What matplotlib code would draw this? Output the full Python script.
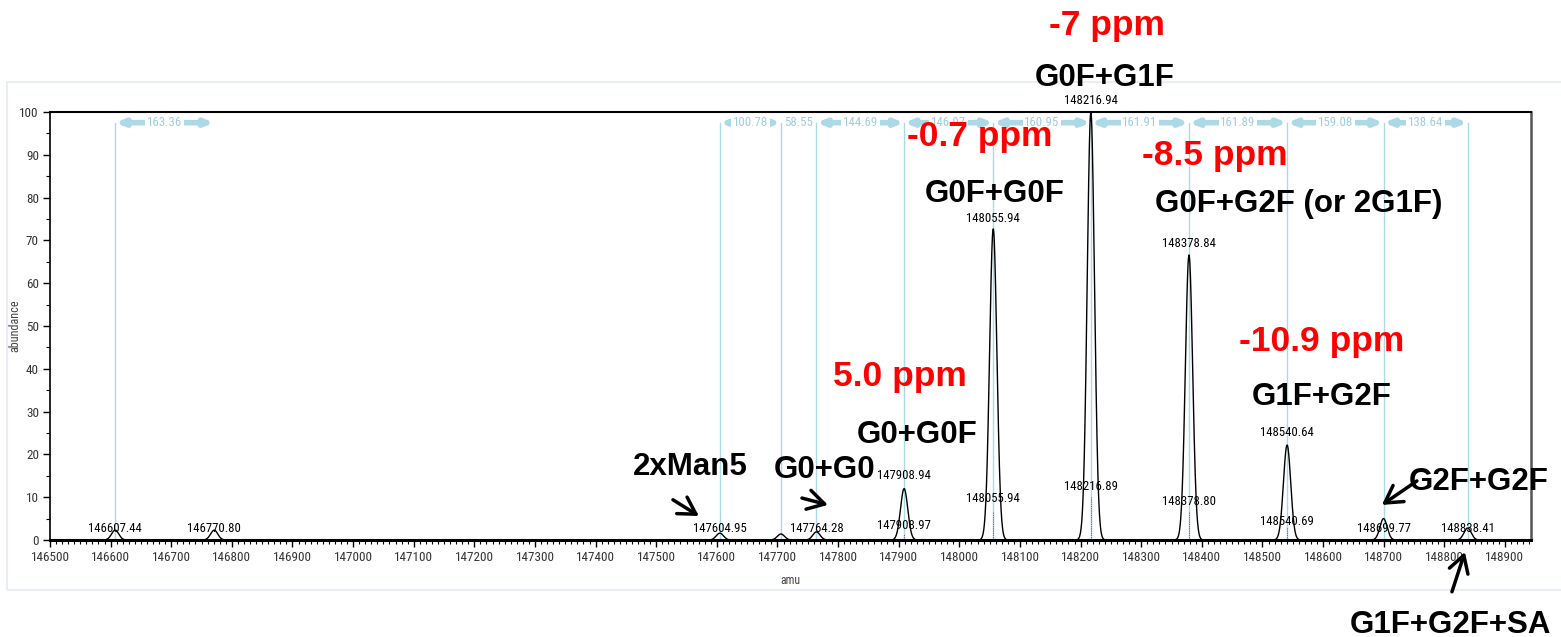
import os
import numpy as np
import matplotlib
matplotlib.use("Agg")
import matplotlib.pyplot as plt
import matplotlib.font_manager as fm
from matplotlib.ft2font import FT2Font
from matplotlib.patches import Rectangle

# --- данные спектра (деконволюция) ---
peak_mass = [146607.44, 146770.80, 147604.95, 147705.73, 147764.28, 147908.94,
             148055.94, 148216.94, 148378.84, 148540.64, 148699.77, 148838.41]
peak_abund = [2.3, 2.3, 1.6, 1.4, 1.9, 12.0, 72.7, 100.0, 66.6, 22.2, 5.0, 2.8]
peak_sigma = 6.0

# подписи вершин пиков
top_label_mass = [146607.44, 146770.80, 147604.95, 147764.28, 147908.94,
                  148055.94, 148216.94, 148378.84, 148540.64, 148699.77, 148838.41]
top_label_y = [2.6, 2.6, 2.8, 2.8, 15.0, 75.2, 102.8, 69.2, 25.0, 2.8, 2.8]

# центроиды (нижние подписи и красные пунктиры)
centroid_mass = [147908.97, 148055.94, 148216.89, 148378.80, 148540.69]
centroid_label_y = [3.5, 9.6, 12.4, 9.1, 4.4]
centroid_mark_h = [1.5, 6.5, 10.0, 6.5, 3.0]

# разности масс между соседними пиками
diff_start = [146607.44, 147604.95, 147705.73, 147764.28, 147908.97,
              148055.94, 148216.89, 148378.80, 148540.69, 148699.77]
diff_end = [146770.80, 147705.73, 147764.28, 147908.97, 148055.94,
            148216.89, 148378.80, 148540.69, 148699.77, 148838.41]
diff_text = ['163.36', '100.78', '58.55', '144.69', '146.97',
             '160.95', '161.91', '161.89', '159.08', '138.64']
marker_mass = [146607.44, 147604.95, 147705.73, 147764.28, 147908.97, 148055.94,
               148216.89, 148378.80, 148540.69, 148699.77, 148838.41]
DIFF_Y = 97.5

# гликоформы с ошибкой массы
glyco_names = ['G0F+G1F', 'G0F+G0F', 'G0F+G2F (or 2G1F)', 'G1F+G2F', 'G0+G0F']
glyco_ppm = ['-7 ppm', '-0.7 ppm', '-8.5 ppm', '-10.9 ppm', '5.0 ppm']
glyco_x = [148240, 148059, 148560, 148598, 147930]
glyco_ppm_x = [148243, 148034, 148422, 148598, 147902]
glyco_name_y = [106.1, 79.0, 76.6, 31.5, 22.7]
glyco_ppm_y = [118.0, 92.1, 87.6, 44.2, 36.0]

# минорные формы со стрелками
minor_names = ['2xMan5', 'G0+G0', 'G2F+G2F', 'G1F+G2F+SA']
minor_x = [147557, 147777, 148856, 148811]
minor_y = [15.2, 14.5, 11.7, -21.7]
arrow_tail = [(147527.6, 9.4), (147740.4, 9.8), (148754.8, 13.8), (148812.6, -12.1)]
arrow_head = [(147570.5, 5.6), (147783.3, 8.2), (148697.1, 8.2), (148834.0, -2.8)]

LIGHTBLUE = '#add8e6'
BOLD = ['Liberation Sans', 'DejaVu Sans']


def find_narrow_font():
    """Ищем установленный узкий шрифт (аналог Arial Narrow)"""
    prefs = ['liberationsansnarrow-regular', 'arialn', 'notosans-extracondensed.',
             'notosans-condensed.', 'robotocondensed-regular', 'dejavusanscondensed.']
    files = [f.fname for f in fm.fontManager.ttflist]
    for root in ['/usr/share/fonts', '/usr/local/share/fonts']:
        for dirpath, _, names in os.walk(root):
            files += [os.path.join(dirpath, n) for n in names]
    for p in prefs:
        for f in files:
            if os.path.basename(f).lower().startswith(p):
                return f
    return fm.findfont('Liberation Sans')


narrow_path = find_narrow_font()


def fitted_font(sample, target_px):
    """Размер шрифта, при котором строка sample занимает target_px пикселей"""
    ft = FT2Font(narrow_path)
    ft.set_size(10, 72)
    ft.set_text(sample)
    width_pt = ft.get_width_height()[0] / 64.0
    size = 10 * (target_px * 72 / 100) / width_pt
    return fm.FontProperties(fname=narrow_path, size=size)


peak_font = fitted_font('148055.94', 54)
tick_font = fitted_font('146500', 39)
diff_font = fitted_font('163.36', 35)
ylabel_font = fitted_font('abundance', 52)
xlabel_font = fitted_font('amu', 20)

fig = plt.figure(figsize=(15.61, 6.37), dpi=100)
# светлая рамка скриншота
fig.patches.append(Rectangle((7 / 1561, 47 / 637), 1.0, 508 / 637, transform=fig.transFigure,
                             fill=False, edgecolor='#e9eef5', linewidth=1.5, zorder=-5))
ax = fig.add_axes([50 / 1561, 97 / 637, 1481 / 1561, 428 / 637])

# профиль спектра как сумма гауссиан
mass = np.linspace(146500, 148943, 8000)
profile = np.zeros_like(mass)
for m, a in zip(peak_mass, peak_abund):
    profile += a * np.exp(-0.5 * ((mass - m) / peak_sigma) ** 2)

# вертикальные маркеры
for m in marker_mass:
    ax.plot([m, m], [0, DIFF_Y], color=LIGHTBLUE, lw=1, zorder=1)

ax.plot(mass, profile, color='black', lw=1.0, zorder=3)

for m, h in zip(centroid_mass, centroid_mark_h):
    ax.plot([m, m], [0, h], color='#e0304a', lw=0.8, ls=(0, (1, 1)), zorder=2)

# стрелки разностей масс
for x0, x1, t in zip(diff_start, diff_end, diff_text):
    ax.annotate('', xy=(x1, DIFF_Y), xytext=(x0, DIFF_Y),
                arrowprops=dict(arrowstyle='<|-|>,head_length=0.45,head_width=0.18',
                                lw=4, color=LIGHTBLUE, shrinkA=0, shrinkB=0,
                                mutation_scale=10),
                zorder=2)
    ax.text((x0 + x1) / 2, DIFF_Y, t, ha='center', va='center', fontproperties=diff_font,
            color='#9fcde0', zorder=4,
            bbox=dict(facecolor='white', edgecolor='none', pad=1.2))

# подписи пиков
for m, y in zip(top_label_mass, top_label_y):
    ax.text(m, y, f'{m:.2f}', ha='center', va='center', fontproperties=peak_font,
            color='black', zorder=5, clip_on=False)
for m, y in zip(centroid_mass, centroid_label_y):
    ax.text(m, y, f'{m:.2f}', ha='center', va='center', fontproperties=peak_font,
            color='black', zorder=5)

# аннотации гликоформ
for name, ppm, xn, xp, yn, yp in zip(glyco_names, glyco_ppm, glyco_x, glyco_ppm_x,
                                     glyco_name_y, glyco_ppm_y):
    ax.text(xn, yn, name, ha='center', va='baseline', fontsize=22.5, fontweight='bold',
            family=BOLD, color='black', clip_on=False, zorder=6)
    ax.text(xp, yp, ppm, ha='center', va='baseline', fontsize=25.5, fontweight='bold',
            family=BOLD, color='#ff0000', clip_on=False, zorder=6)

for name, x, y, tail, head in zip(minor_names, minor_x, minor_y, arrow_tail, arrow_head):
    ax.text(x, y, name, ha='center', va='baseline', fontsize=22.5, fontweight='bold',
            family=BOLD, color='black', clip_on=False, zorder=6)
    ax.annotate('', xy=head, xytext=tail, annotation_clip=False,
                arrowprops=dict(arrowstyle='->,head_length=0.6,head_width=0.35', lw=2.5,
                                color='black', shrinkA=0, shrinkB=0, mutation_scale=20))

# оси
ax.set_xlim(146500, 148943)
ax.set_ylim(0, 100)
ax.set_xticks(np.arange(146500, 148901, 100))
ax.set_xticks(np.arange(146500, 148941, 10), minor=True)
ax.set_yticks(np.arange(0, 101, 10))
ax.set_yticks(np.arange(0, 101, 5), minor=True)
ax.tick_params(which='major', direction='out', length=5, width=1,
               labelcolor='#333333', pad=3)
ax.tick_params(which='minor', direction='out', length=3, width=0.8)
for lab in ax.get_xticklabels() + ax.get_yticklabels():
    lab.set_fontproperties(tick_font)
ax.set_xlabel('amu', fontproperties=xlabel_font, color='#444444')
ax.set_ylabel('abundance', fontproperties=ylabel_font, color='#444444')
ax.xaxis.set_label_coords(0.5, -0.079)
ax.yaxis.set_label_coords(-0.0196, 0.5)

ax.spines['bottom'].set_linewidth(2.2)
ax.spines['left'].set_linewidth(1.2)
ax.spines['top'].set_linewidth(1.5)
ax.spines['right'].set_linewidth(1.8)
ax.spines['right'].set_color('#555555')

fig.savefig('out.png', dpi=100)
